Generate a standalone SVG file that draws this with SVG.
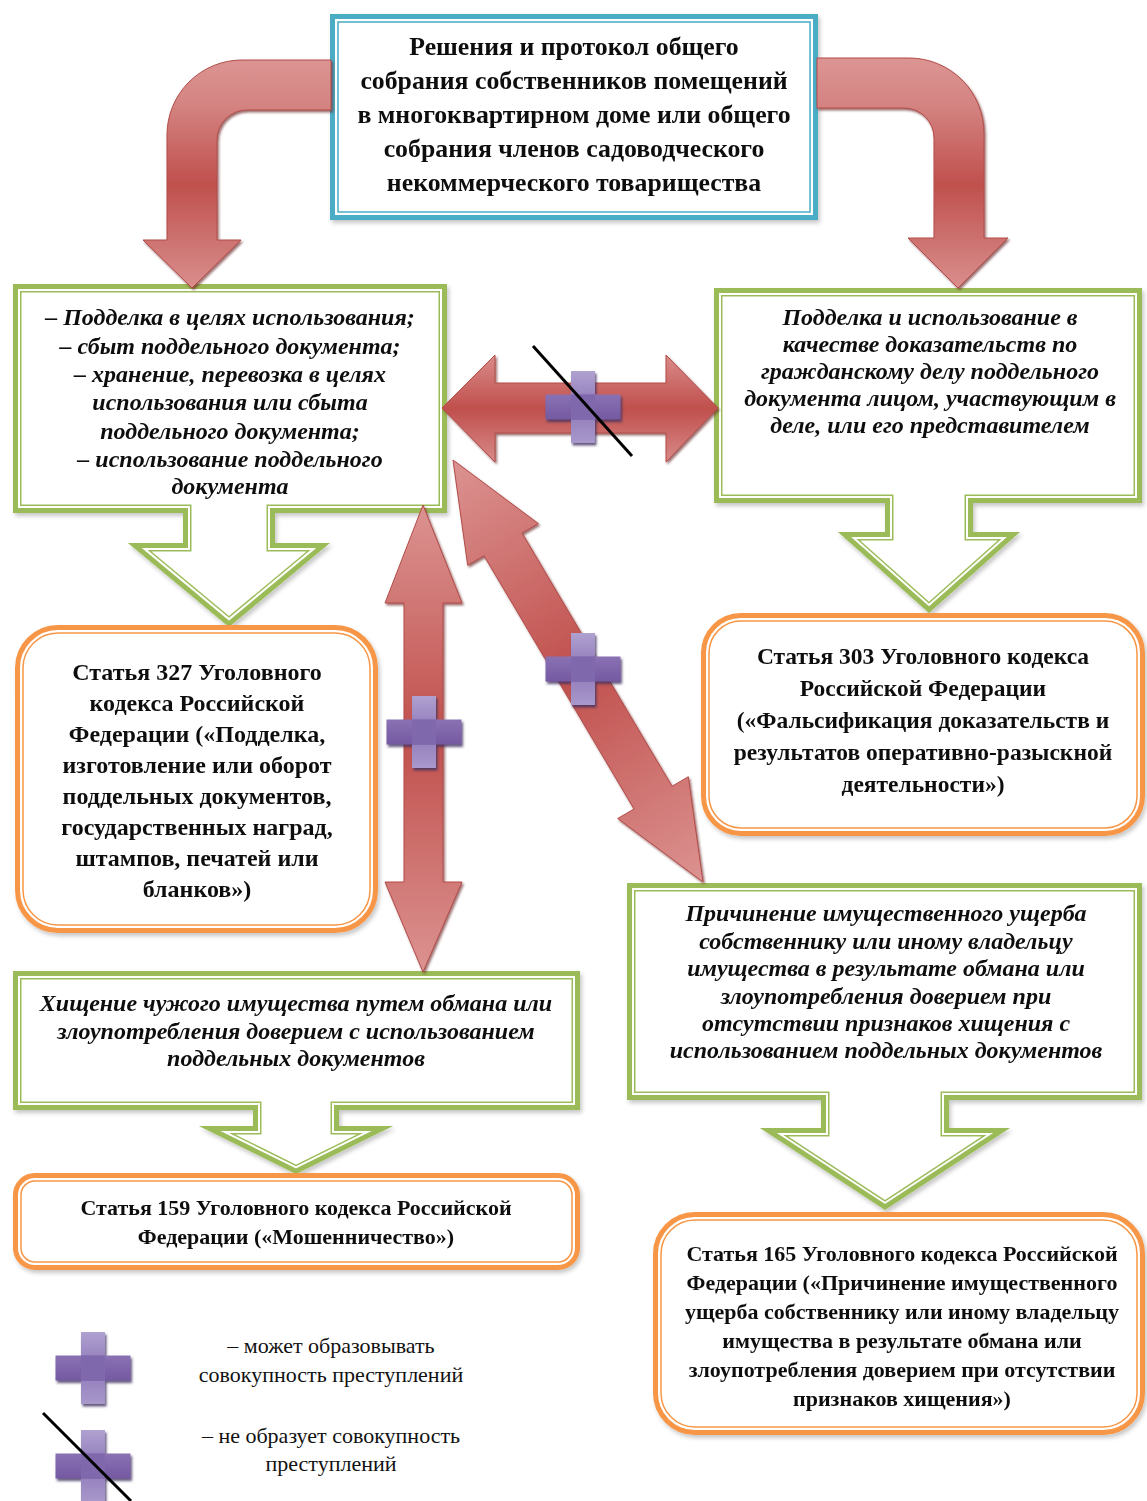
<svg xmlns="http://www.w3.org/2000/svg" xmlns:xlink="http://www.w3.org/1999/xlink" width="1147" height="1501" viewBox="0 0 1147 1501">
<style>
text{font-family:"Liberation Serif","Times New Roman",serif;fill:#111;text-anchor:middle}
.tb{font-size:25.8px;font-weight:bold}
.it{font-size:24px;font-weight:bold;font-style:italic}
.it2{font-size:24px;font-weight:bold;font-style:italic}
.ob{font-size:22px;font-weight:bold}
.ob24{font-size:24px;font-weight:bold}
.ob23{font-size:23.5px;font-weight:bold}
.lg{font-size:22px}
.og{fill:#fff;stroke:#F79646;stroke-width:5}
.oi{fill:none;stroke:#F79646;stroke-width:1.5}
.red{stroke:#B24C49;stroke-width:1;filter:url(#rsh)}
</style>
<defs>
<filter id="sh" x="-5%" y="-5%" width="112%" height="115%"><feDropShadow dx="2" dy="3" stdDeviation="2" flood-color="#000" flood-opacity="0.22"/></filter>
<filter id="rsh" x="-10%" y="-10%" width="125%" height="125%"><feDropShadow dx="1.5" dy="2" stdDeviation="1" flood-color="#6A2422" flood-opacity="0.65"/></filter>
<filter id="psh" x="-10%" y="-10%" width="130%" height="130%"><feDropShadow dx="1.5" dy="2.5" stdDeviation="0.8" flood-color="#3E2F5C" flood-opacity="0.8"/></filter>
<linearGradient id="gCurve" gradientUnits="userSpaceOnUse" x1="0" y1="58" x2="0" y2="288">
<stop offset="0" stop-color="#DC9593"/><stop offset="0.2" stop-color="#D48482"/><stop offset="0.55" stop-color="#C0504D"/><stop offset="0.85" stop-color="#D07A78"/><stop offset="1" stop-color="#DA8E8C"/></linearGradient>
<linearGradient id="gVert" gradientUnits="userSpaceOnUse" x1="0" y1="505" x2="0" y2="972">
<stop offset="0" stop-color="#DC9391"/><stop offset="0.5" stop-color="#C0504D"/><stop offset="1" stop-color="#DC9391"/></linearGradient>
<linearGradient id="gDiag" gradientUnits="userSpaceOnUse" x1="453" y1="460" x2="703" y2="882">
<stop offset="0" stop-color="#DC9391"/><stop offset="0.5" stop-color="#C0504D"/><stop offset="1" stop-color="#DC9391"/></linearGradient>
<linearGradient id="gHor" gradientUnits="userSpaceOnUse" x1="0" y1="355" x2="0" y2="463">
<stop offset="0" stop-color="#D98B89"/><stop offset="0.5" stop-color="#C0504D"/><stop offset="1" stop-color="#D98B89"/></linearGradient>
<linearGradient id="gPV" x1="0" y1="0" x2="0" y2="1">
<stop offset="0" stop-color="#AFA1D0"/><stop offset="0.5" stop-color="#8E78B9"/><stop offset="1" stop-color="#A898CB"/></linearGradient>
<linearGradient id="gPH" x1="0" y1="0" x2="0" y2="1">
<stop offset="0" stop-color="#8A71B3"/><stop offset="1" stop-color="#7459A2"/></linearGradient>
<g id="plus" filter="url(#psh)">
<rect x="-12" y="-36" width="24" height="72" fill="url(#gPV)"/>
<rect x="-37.5" y="-12.5" width="75" height="25" fill="url(#gPH)"/>
<rect x="-12" y="-12.5" width="24" height="25" fill="#8068AC"/>
</g>
<path id="pL" d="M13,284 H447 V513 H275 V543 H330 L229,627 L128,543 H183 V513 H13 Z"/>
<path id="pR" d="M714,288 H1142 V503 H973 V532 H1020 L929,613 L838,532 H885 V503 H714 Z"/>
<path id="pH" d="M13,971 H580 V1110 H339 V1126 H393 L296,1174 L199,1126 H253 V1110 H13 Z"/>
<path id="pP" d="M627,883 H1142 V1100 H949 V1128 H1010 L885,1210 L760,1128 H821 V1100 H627 Z"/>
<clipPath id="cL"><use xlink:href="#pL"/></clipPath>
<clipPath id="cR"><use xlink:href="#pR"/></clipPath>
<clipPath id="cH"><use xlink:href="#pH"/></clipPath>
<clipPath id="cP"><use xlink:href="#pP"/></clipPath>
</defs>
<rect width="1147" height="1501" fill="#fff"/>

<g id="node-top" filter="url(#sh)">
<rect x="332.5" y="16.5" width="483" height="201" fill="#fff" stroke="#4BACC6" stroke-width="5"/>
<rect x="338" y="22" width="472" height="190" fill="none" stroke="#4BACC6" stroke-width="1.5"/>
<text class="tb" x="574" y="55">Решения и протокол общего</text>
<text class="tb" x="574" y="89">собрания собственников помещений</text>
<text class="tb" x="574" y="123">в многоквартирном доме или общего</text>
<text class="tb" x="574" y="157">собрания членов садоводческого</text>
<text class="tb" x="574" y="191">некоммерческого товарищества</text>
</g>

<g id="node-forgery" filter="url(#sh)">
<g clip-path="url(#cL)">
<use xlink:href="#pL" fill="#fff" stroke="#9BBB59" stroke-width="17"/>
<use xlink:href="#pL" fill="none" stroke="#fff" stroke-width="14"/>
<use xlink:href="#pL" fill="none" stroke="#9BBB59" stroke-width="10"/>
</g>
<text class="it" x="230" y="325">–  Подделка в целях использования;</text>
<text class="it" x="230" y="354">–  сбыт поддельного документа;</text>
<text class="it" x="230" y="382">–  хранение, перевозка в целях</text>
<text class="it" x="230" y="410">использования или сбыта</text>
<text class="it" x="230" y="439">поддельного документа;</text>
<text class="it" x="230" y="467">–  использование поддельного</text>
<text class="it" x="230" y="494">документа</text>
</g>

<g id="node-civil" filter="url(#sh)">
<g clip-path="url(#cR)">
<use xlink:href="#pR" fill="#fff" stroke="#9BBB59" stroke-width="17"/>
<use xlink:href="#pR" fill="none" stroke="#fff" stroke-width="14"/>
<use xlink:href="#pR" fill="none" stroke="#9BBB59" stroke-width="10"/>
</g>
<text class="it" x="930" y="325">Подделка и использование в</text>
<text class="it" x="930" y="352">качестве доказательств по</text>
<text class="it" x="930" y="379">гражданскому делу поддельного</text>
<text class="it" x="930" y="406">документа лицом, участвующим в</text>
<text class="it" x="930" y="433">деле, или его представителем</text>
</g>

<g id="node-art327" filter="url(#sh)">
<rect class="og" x="17.5" y="627.5" width="358" height="303" rx="40.5"/>
<rect class="oi" x="23" y="633" width="347" height="292" rx="35"/>
<text class="ob24" x="197" y="680">Статья 327 Уголовного</text>
<text class="ob24" x="197" y="711">кодекса Российской</text>
<text class="ob24" x="197" y="742">Федерации («Подделка,</text>
<text class="ob24" x="197" y="773">изготовление или оборот</text>
<text class="ob24" x="197" y="804">поддельных документов,</text>
<text class="ob24" x="197" y="835">государственных наград,</text>
<text class="ob24" x="197" y="866">штампов, печатей или</text>
<text class="ob24" x="197" y="897">бланков»)</text>
</g>

<g id="node-art303" filter="url(#sh)">
<rect class="og" x="703.5" y="615.5" width="439" height="218" rx="37.5"/>
<rect class="oi" x="709" y="621" width="428" height="207" rx="32"/>
<text class="ob23" x="923" y="664">Статья 303 Уголовного кодекса</text>
<text class="ob23" x="923" y="696">Российской Федерации</text>
<text class="ob23" x="923" y="728">(«Фальсификация доказательств и</text>
<text class="ob23" x="923" y="760">результатов оперативно-разыскной</text>
<text class="ob23" x="923" y="792">деятельности»)</text>
</g>

<g id="node-theft" filter="url(#sh)">
<g clip-path="url(#cH)">
<use xlink:href="#pH" fill="#fff" stroke="#9BBB59" stroke-width="17"/>
<use xlink:href="#pH" fill="none" stroke="#fff" stroke-width="14"/>
<use xlink:href="#pH" fill="none" stroke="#9BBB59" stroke-width="10"/>
</g>
<text class="it2" x="296" y="1011">Хищение чужого имущества путем обмана или</text>
<text class="it2" x="296" y="1039">злоупотребления доверием с использованием</text>
<text class="it2" x="296" y="1066">поддельных документов</text>
</g>

<g id="node-art159" filter="url(#sh)">
<rect class="og" x="15.5" y="1175.5" width="562" height="92" rx="19.5"/>
<rect class="oi" x="21" y="1181" width="551" height="81" rx="14"/>
<text class="ob" x="296" y="1215">Статья 159 Уголовного кодекса Российской</text>
<text class="ob" x="296" y="1244">Федерации («Мошенничество»)</text>
</g>

<g id="node-damage" filter="url(#sh)">
<g clip-path="url(#cP)">
<use xlink:href="#pP" fill="#fff" stroke="#9BBB59" stroke-width="17"/>
<use xlink:href="#pP" fill="none" stroke="#fff" stroke-width="14"/>
<use xlink:href="#pP" fill="none" stroke="#9BBB59" stroke-width="10"/>
</g>
<text class="it2" x="886" y="921">Причинение имущественного ущерба</text>
<text class="it2" x="886" y="949">собственнику или иному владельцу</text>
<text class="it2" x="886" y="976">имущества в результате обмана или</text>
<text class="it2" x="886" y="1004">злоупотребления доверием при</text>
<text class="it2" x="886" y="1031">отсутствии признаков хищения с</text>
<text class="it2" x="886" y="1058">использованием поддельных документов</text>
</g>

<g id="node-art165" filter="url(#sh)">
<rect class="og" x="655.5" y="1214.5" width="487" height="218" rx="39.5"/>
<rect class="oi" x="661" y="1220" width="476" height="207" rx="34"/>
<text class="ob" x="902" y="1261">Статья 165 Уголовного кодекса Российской</text>
<text class="ob" x="902" y="1290">Федерации («Причинение имущественного</text>
<text class="ob" x="902" y="1319">ущерба собственнику или иному владельцу</text>
<text class="ob" x="902" y="1348">имущества в результате обмана или</text>
<text class="ob" x="902" y="1377">злоупотребления доверием при отсутствии</text>
<text class="ob" x="902" y="1406">признаков хищения»)</text>
</g>

<g id="connectors">
<path class="red" fill="url(#gCurve)" d="M331,60 L242,60 A75,75 0 0 0 167,135 L167,240 L143,240 L192,288 L241,240 L217,240 L217,140 A30,30 0 0 1 247,110 L331,110 Z"/>
<path class="red" fill="url(#gCurve)" d="M817,58 L909,58 A75,75 0 0 1 984,133 L984,238 L1008,238 L958,288 L908,238 L934,238 L934,138 A30,30 0 0 0 904,108 L817,108 Z"/>
<path class="red" fill="url(#gHor)" d="M442,408 L495,355 L495,383 L666,383 L666,355 L718,408 L666,462 L666,433 L495,433 L495,462 Z"/>
<path class="red" fill="url(#gVert)" d="M423,505 L462,603 L443,603 L443,882 L462,882 L423,972 L385,882 L404,882 L404,603 L385,603 Z"/>
<path class="red" fill="url(#gDiag)" d="M453,460 L538.3,523.5 L522,533.1 L672,786.3 L688.3,776.7 L703,882 L617.7,818.5 L634,808.9 L484,555.7 L467.7,565.3 Z"/>
<use xlink:href="#plus" x="583" y="407"/>
<line x1="533" y1="346" x2="632" y2="456" stroke="#000" stroke-width="3"/>
<use xlink:href="#plus" x="424" y="732"/>
<use xlink:href="#plus" x="583" y="669"/>
</g>

<g id="legend">
<use xlink:href="#plus" x="93" y="1368"/>
<use xlink:href="#plus" x="93" y="1466"/>
<line x1="43" y1="1413" x2="131" y2="1501" stroke="#000" stroke-width="3"/>
<text class="lg" x="331" y="1353">– может образовывать</text>
<text class="lg" x="331" y="1382">совокупность преступлений</text>
<text class="lg" x="331" y="1443">– не образует совокупность</text>
<text class="lg" x="331" y="1471">преступлений</text>
</g>
</svg>
